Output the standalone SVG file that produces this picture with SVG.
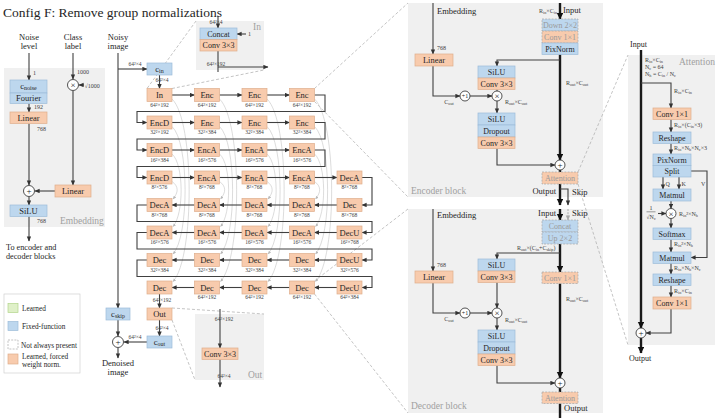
<svg xmlns="http://www.w3.org/2000/svg" width="720" height="418" viewBox="0 0 720 418">
<defs>
<marker id="a" markerUnits="userSpaceOnUse" markerWidth="6" markerHeight="6" refX="4.6" refY="2.2" orient="auto"><path d="M0,0 L5,2.2 L0,4.4 z" fill="#333"/></marker>
<marker id="ka" markerUnits="userSpaceOnUse" markerWidth="8" markerHeight="8" refX="6" refY="3.2" orient="auto"><path d="M0,0 L6.5,3.2 L0,6.4 z" fill="#111"/></marker>
<marker id="ga" markerUnits="userSpaceOnUse" markerWidth="5" markerHeight="5" refX="3" refY="1.5" orient="auto"><path d="M0,0 L3.2,1.5 L0,3 z" fill="#b8b8b8"/></marker>
<marker id="gd" markerUnits="userSpaceOnUse" markerWidth="6" markerHeight="6" refX="4.6" refY="2.2" orient="auto"><path d="M0,0 L5,2.2 L0,4.4 z" fill="#aaa"/></marker>
</defs>
<style>
text{font-family:"Liberation Serif","Times New Roman",serif;fill:#262626}
.o{fill:#f8cbad;stroke:#dfae8c;stroke-width:.7}
.b{fill:#bdd7ee;stroke:#9dbcd9;stroke-width:.7}
.od{fill:#f8cbad;stroke:#a6a6a6;stroke-width:.7;stroke-dasharray:2 1.2}
.bd{fill:#bdd7ee;stroke:#a6a6a6;stroke-width:.7;stroke-dasharray:2 1.2}
.pn{fill:#f0f0f0}
.t{font-size:8.5px;text-anchor:middle}
.tb{font-size:8px;text-anchor:middle}
.tg{font-size:8px;text-anchor:middle;fill:#9a9a9a}
.d{font-size:5.5px;text-anchor:middle;fill:#404040}
.s{font-size:6px;fill:#404040}
.sb{font-size:4.2px}
.io{font-size:8.5px}
.pl{font-size:9.5px;fill:#a0a0a0}
.l{stroke:#404040;stroke-width:1.1;fill:none}
.la{stroke:#404040;stroke-width:1.1;fill:none;marker-end:url(#a)}
.k{stroke:#1a1a1a;stroke-width:2.4;fill:none}
.ka{stroke:#1a1a1a;stroke-width:2.4;fill:none;marker-end:url(#ka)}
.dz{stroke:#aaaaaa;stroke-width:.7;fill:none;stroke-dasharray:3 2}
.sk{stroke:#c4c4c4;stroke-width:.6;fill:none;marker-end:url(#ga)}
.c{fill:#fff;stroke:#404040;stroke-width:.9}
.ct{font-size:9px;text-anchor:middle}
</style>

<text x="3" y="17" font-size="13.5">Config F: Remove group normalizations</text>

<!-- panels -->
<g id="panels">
<rect class="pn" x="4" y="68" width="101" height="159"/>
<text class="pl" x="60" y="224">Embedding</text>
<rect class="pn" x="196" y="21" width="68" height="49"/>
<text class="pl" x="253" y="30">In</text>
<rect class="pn" x="195" y="314" width="69" height="66"/>
<text class="pl" x="248" y="378">Out</text>
<rect class="pn" x="408" y="3" width="195" height="194"/>
<text class="pl" x="411" y="194">Encoder block</text>
<rect class="pn" x="408" y="209" width="195" height="204"/>
<text class="pl" x="411" y="409">Decoder block</text>
<rect class="pn" x="628" y="55" width="87" height="290"/>
<text class="pl" x="679" y="65">Attention</text>
</g>

<g id="connectors">
<!-- zoom dashed lines -->
<path class="dz" d="M196,21 L147,88.5"/>
<path class="dz" d="M172,88.5 L264,70"/>
<path class="dz" d="M314.5,88.5 L408,3"/>
<path class="dz" d="M314.5,101.5 L408,197"/>
<path class="dz" d="M314.5,281 L408,209"/>
<path class="dz" d="M314.5,294 L408,413"/>
<path class="dz" d="M578,172 L628,55"/>
<path class="dz" d="M578,184 L628,345"/>
<path class="dz" d="M172,308 L264,314"/>
<path class="dz" d="M172,320 L195,380"/>

<!-- skip curves -->
<path class="sk" d="M172,99 C194.7,120.25 194.7,258.25 173,281.5"/>
<path class="sk" d="M172,126.5 C189.3,142.25 189.3,236.25 173,254"/>
<path class="sk" d="M172,154 C184,164.25 184,214.25 173,226.5"/>
<path class="sk" d="M172,181.5 C178.7,186.25 178.7,192.25 173,199"/>
<path class="sk" d="M219.5,99 C242.2,120.25 242.2,258.25 220.5,281.5"/>
<path class="sk" d="M219.5,126.5 C236.8,142.25 236.8,236.25 220.5,254"/>
<path class="sk" d="M219.5,154 C231.5,164.25 231.5,214.25 220.5,226.5"/>
<path class="sk" d="M219.5,181.5 C226.2,186.25 226.2,192.25 220.5,199"/>
<path class="sk" d="M267,99 C289.7,120.25 289.7,258.25 268,281.5"/>
<path class="sk" d="M267,126.5 C284.3,142.25 284.3,236.25 268,254"/>
<path class="sk" d="M267,154 C279,164.25 279,214.25 268,226.5"/>
<path class="sk" d="M267,181.5 C273.7,186.25 273.7,192.25 268,199"/>
<path class="sk" d="M314.5,99 C337.2,120.25 337.2,258.25 315.5,281.5"/>
<path class="sk" d="M314.5,126.5 C331.8,142.25 331.8,236.25 315.5,254"/>
<path class="sk" d="M314.5,154 C326.5,164.25 326.5,214.25 315.5,226.5"/>
<path class="sk" d="M314.5,181.5 C321.2,186.25 321.2,192.25 315.5,199"/>

<!-- embedding -->
<path class="la" d="M29,53 V80"/>
<path class="la" d="M29,103.5 V112"/>
<path class="la" d="M29,123.5 V185"/>
<path class="la" d="M29,197 V205"/>
<path class="la" d="M29,216.5 V241"/>
<path class="la" d="M73,53 V79"/>
<path class="la" d="M84,85 H79"/>
<path class="la" d="M73,91 V185"/>
<path class="la" d="M55,191 H35"/>

<!-- network main -->
<path class="la" d="M118,53 V308"/>
<path class="la" d="M118,69 H147"/>
<path class="la" d="M159.5,75 V88.5"/>
<path class="la" d="M172,95 H194.5"/>
<path class="la" d="M219.5,95 H242"/>
<path class="la" d="M267,95 H289.5"/>
<path class="la" d="M314.5,95 H325 V111.5 H137 V122.5 H147"/>
<path class="la" d="M172,122.5 H194.5"/>
<path class="la" d="M219.5,122.5 H242"/>
<path class="la" d="M267,122.5 H289.5"/>
<path class="la" d="M314.5,122.5 H325 V139 H137 V150 H147"/>
<path class="la" d="M172,150 H194.5"/>
<path class="la" d="M219.5,150 H242"/>
<path class="la" d="M267,150 H289.5"/>
<path class="la" d="M314.5,150 H325 V166.5 H137 V177.5 H147"/>
<path class="la" d="M172,177.5 H194.5"/>
<path class="la" d="M219.5,177.5 H242"/>
<path class="la" d="M267,177.5 H289.5"/>
<path class="la" d="M314.5,177.5 H337"/>
<path class="la" d="M362,177.5 H372 V205 H362"/>
<path class="la" d="M337,205 H314.5"/>
<path class="la" d="M289.5,205 H267"/>
<path class="la" d="M242,205 H219.5"/>
<path class="la" d="M194.5,205 H172"/>
<path class="la" d="M147,205 H137 V221.5 H372 V232.5 H362"/>
<path class="la" d="M337,232.5 H314.5"/>
<path class="la" d="M289.5,232.5 H267"/>
<path class="la" d="M242,232.5 H219.5"/>
<path class="la" d="M194.5,232.5 H172"/>
<path class="la" d="M147,232.5 H137 V249 H372 V260 H362"/>
<path class="la" d="M337,260 H314.5"/>
<path class="la" d="M289.5,260 H267"/>
<path class="la" d="M242,260 H219.5"/>
<path class="la" d="M194.5,260 H172"/>
<path class="la" d="M147,260 H137 V276.5 H372 V287.5 H362"/>
<path class="la" d="M337,287.5 H314.5"/>
<path class="la" d="M289.5,287.5 H267"/>
<path class="la" d="M242,287.5 H219.5"/>
<path class="la" d="M194.5,287.5 H172"/>
<path class="la" d="M159.5,294 V308"/>
<path class="la" d="M159.5,320 V336"/>
<path class="la" d="M147,342 H124"/>
<path class="la" d="M118,320 V336"/>
<path class="la" d="M118,348 V358"/>

<!-- In / Out panels -->
<path class="la" d="M218,16 V28"/>
<path class="la" d="M246,34 H237"/>
<path class="l" d="M218,51 V72"/>
<path class="la" d="M218,67 H268"/>
<path class="la" d="M220,309 V348"/>
<path class="la" d="M220,359.5 V387"/>

<!-- encoder block -->
<path class="la" d="M433,3 V54"/>
<path class="la" d="M433,66 V96 H460"/>
<path class="la" d="M470,96 H492"/>
<path class="l" d="M497,89.5 V91"/>
<path class="la" d="M497,101 V113"/>
<path class="la" d="M497,148.5 V165 H555"/>
<path class="ka" d="M560,3 V19"/>
<path class="ka" d="M560,54.5 V160"/>
<path class="la" d="M560,60 H497 V66"/>
<path class="k" d="M560,170 V172"/>
<path class="ka" d="M560,184 V205"/>
<path class="la" d="M560,189 H568 V205"/>

<!-- decoder block -->
<path class="la" d="M433,209 V271"/>
<path class="la" d="M433,283 V313 H460"/>
<path class="la" d="M470,313 H492"/>
<path class="la" d="M497,282.5 V308"/>
<path class="la" d="M497,318 V330"/>
<path class="la" d="M497,365.5 V383 H555"/>
<path class="ka" d="M560,209 V220"/>
<path d="M568,209 V220" stroke="#aaa" stroke-width="1" stroke-dasharray="2 1.2" fill="none" marker-end="url(#gd)"/>
<path class="ka" d="M560,244 V272"/>
<path class="la" d="M560,253 H497 V259"/>
<path class="ka" d="M560,283.5 V378"/>
<path class="k" d="M560,388 V392"/>
<path class="k" d="M560,403.5 V418"/>

<!-- attention -->
<path class="ka" d="M641,50 V328"/>
<path class="la" d="M641,83 H671 V108"/>
<path class="la" d="M671,119.5 V132"/>
<path class="la" d="M671,143.5 V154"/>
<path class="la" d="M663,177 V189"/>
<path class="la" d="M679,177 V189"/>
<path class="la" d="M691,171 H707 V257.5 H691"/>
<path class="la" d="M671,201 V208.5"/>
<path class="la" d="M658,213.5 H666"/>
<path class="la" d="M671,218.5 V228"/>
<path class="la" d="M671,239.5 V252"/>
<path class="la" d="M671,263 V274"/>
<path class="la" d="M671,285.5 V297"/>
<path class="la" d="M671,309 V333 H646"/>
<path class="ka" d="M641,338 V353"/>
</g>

<!-- left side labels -->
<g id="inputs">
<text class="t" x="29" y="40">Noise</text>
<text class="t" x="29" y="49">level</text>
<text class="t" x="73" y="40">Class</text>
<text class="t" x="73" y="49">label</text>
<text class="t" x="118" y="40">Noisy</text>
<text class="t" x="118" y="49">image</text>
<text class="s" x="33" y="75">1</text>
<text class="s" x="34" y="109">192</text>
<text class="s" x="37" y="131">768</text>
<text class="s" x="37" y="223">768</text>
<text class="s" x="77" y="74">1000</text>
<text class="s" x="84.5" y="88" font-size="6.5">√1000</text>
<text x="6" y="250" font-size="8.2">To encoder and</text>
<text x="6" y="259" font-size="8.2">decoder blocks</text>
<text class="t" x="118" y="366">Denoised</text>
<text class="t" x="118" y="375">image</text>
<text class="d" x="135" y="66">64²×4</text>
<text class="d" x="135" y="339">64²×4</text>
<text class="d" x="162" y="82" text-anchor="start">64²×4</text>
<text class="d" x="162" y="302" text-anchor="start">64²×192</text>
<text class="d" x="162" y="330" text-anchor="start">64²×4</text>
<text class="d" x="216" y="24" text-anchor="end">64²×4</text>
<text class="s" x="248" y="36">1</text>
<text class="d" x="216" y="66" text-anchor="end">64²×192</text>
<text class="d" x="224" y="321" text-anchor="start">64²×192</text>
<text class="d" x="224" y="378" text-anchor="start">64²×4</text>
</g>

<g id="emb-cnoise"><rect class="b" x="10" y="80" width="37" height="13"/><text class="t" x="28.5" y="88.5">c<tspan dy="1.8" font-size="6">noise</tspan></text></g>
<g id="emb-fourier"><rect class="b" x="10" y="93" width="37" height="10.5"/><text class="t" x="28.5" y="101">Fourier</text></g>
<g id="emb-linear1"><rect class="o" x="10" y="112" width="37" height="11.5"/><text class="t" x="28.5" y="121">Linear</text></g>
<g id="emb-mul"><circle class="c" cx="73" cy="85" r="5.5"/><text class="ct" x="73" y="88.2">×</text></g>
<g id="emb-linear2"><rect class="o" x="55" y="185" width="36" height="12"/><text class="t" x="73" y="194">Linear</text></g>
<g id="emb-plus"><circle class="c" cx="29" cy="191" r="5.5"/><text class="ct" x="29" y="194.2">+</text></g>
<g id="emb-silu"><rect class="b" x="10" y="205" width="37" height="11.5"/><text class="t" x="28.5" y="214">SiLU</text></g>

<g id="legend">
<rect x="4" y="294" width="76" height="79" fill="#fff" stroke="#d0d0d0" stroke-width=".7"/>
<rect x="8" y="303.5" width="10" height="9" fill="#dff0c8" stroke="#b3d48b" stroke-width=".7"/>
<text x="22" y="311" font-size="7.3">Learned</text>
<rect class="b" x="8" y="321.5" width="10" height="9"/>
<text x="22" y="329" font-size="7.3">Fixed-function</text>
<rect x="8" y="340" width="10" height="9" fill="#fff" stroke="#aaa" stroke-width=".7" stroke-dasharray="2 1.2"/>
<text x="21" y="347.5" font-size="7.3" fill="#9a9a9a">Not always present</text>
<rect class="o" x="8" y="354" width="10" height="10"/>
<text x="22" y="358.5" font-size="7.3">Learned, forced</text>
<text x="22" y="366.5" font-size="7.3">weight norm.</text>
</g>

<g id="cin"><rect class="b" x="147" y="63" width="25" height="12"/><text class="t" x="159.5" y="71.5">c<tspan dy="1.8" font-size="6">in</tspan></text></g>
<g id="cskip"><rect class="b" x="106" y="308" width="24" height="12"/><text class="t" x="118" y="316.5">c<tspan dy="1.8" font-size="6">skip</tspan></text></g>
<g id="out"><rect class="o" x="147" y="308" width="25" height="12"/><text class="t" x="159.5" y="317">Out</text></g>
<g id="cout"><rect class="b" x="147" y="336" width="25" height="12"/><text class="t" x="159.5" y="344.5">c<tspan dy="1.8" font-size="6">out</tspan></text></g>
<g id="final-plus"><circle class="c" cx="118" cy="342" r="5.5"/><text class="ct" x="118" y="345.2">+</text></g>

<g id="in-concat"><rect class="b" x="200" y="28" width="37" height="11.5"/><text class="tb" x="218.5" y="36.8">Concat</text></g>
<g id="in-conv"><rect class="o" x="200" y="39.5" width="37" height="11.5"/><text class="tb" x="218.5" y="48.3">Conv 3×3</text></g>
<g id="out-conv"><rect class="o" x="202" y="348" width="36" height="11.5"/><text class="tb" x="220" y="356.8">Conv 3×3</text></g>

<!-- grid -->
<g id="r0c0"><rect class="o" x="147" y="88.5" width="25" height="13"/><text class="t" x="159.5" y="98">In</text><text class="d" x="159.5" y="106.5">64²×192</text></g>
<g id="r0c1"><rect class="o" x="194.5" y="88.5" width="25" height="13"/><text class="t" x="207" y="98">Enc</text><text class="d" x="207" y="106.5">64²×192</text></g>
<g id="r0c2"><rect class="o" x="242" y="88.5" width="25" height="13"/><text class="t" x="254.5" y="98">Enc</text><text class="d" x="254.5" y="106.5">64²×192</text></g>
<g id="r0c3"><rect class="o" x="289.5" y="88.5" width="25" height="13"/><text class="t" x="302" y="98">Enc</text><text class="d" x="302" y="106.5">64²×192</text></g>

<g id="r1c0"><rect class="o" x="147" y="116" width="25" height="13"/><text class="t" x="159.5" y="125.5">EncD</text><text class="d" x="159.5" y="134">32²×192</text></g>
<g id="r1c1"><rect class="o" x="194.5" y="116" width="25" height="13"/><text class="t" x="207" y="125.5">Enc</text><text class="d" x="207" y="134">32²×384</text></g>
<g id="r1c2"><rect class="o" x="242" y="116" width="25" height="13"/><text class="t" x="254.5" y="125.5">Enc</text><text class="d" x="254.5" y="134">32²×384</text></g>
<g id="r1c3"><rect class="o" x="289.5" y="116" width="25" height="13"/><text class="t" x="302" y="125.5">Enc</text><text class="d" x="302" y="134">32²×384</text></g>

<g id="r2c0"><rect class="o" x="147" y="143.5" width="25" height="13"/><text class="t" x="159.5" y="153">EncD</text><text class="d" x="159.5" y="161.5">16²×384</text></g>
<g id="r2c1"><rect class="o" x="194.5" y="143.5" width="25" height="13"/><text class="t" x="207" y="153">EncA</text><text class="d" x="207" y="161.5">16²×576</text></g>
<g id="r2c2"><rect class="o" x="242" y="143.5" width="25" height="13"/><text class="t" x="254.5" y="153">EncA</text><text class="d" x="254.5" y="161.5">16²×576</text></g>
<g id="r2c3"><rect class="o" x="289.5" y="143.5" width="25" height="13"/><text class="t" x="302" y="153">EncA</text><text class="d" x="302" y="161.5">16²×576</text></g>

<g id="r3c0"><rect class="o" x="147" y="171" width="25" height="13"/><text class="t" x="159.5" y="180.5">EncD</text><text class="d" x="159.5" y="189">8²×576</text></g>
<g id="r3c1"><rect class="o" x="194.5" y="171" width="25" height="13"/><text class="t" x="207" y="180.5">EncA</text><text class="d" x="207" y="189">8²×768</text></g>
<g id="r3c2"><rect class="o" x="242" y="171" width="25" height="13"/><text class="t" x="254.5" y="180.5">EncA</text><text class="d" x="254.5" y="189">8²×768</text></g>
<g id="r3c3"><rect class="o" x="289.5" y="171" width="25" height="13"/><text class="t" x="302" y="180.5">EncA</text><text class="d" x="302" y="189">8²×768</text></g>
<g id="r3c4"><rect class="o" x="337" y="171" width="25" height="13"/><text class="t" x="349.5" y="180.5">DecA</text><text class="d" x="349.5" y="189">8²×768</text></g>

<g id="r4c0"><rect class="o" x="147" y="198.5" width="25" height="13"/><text class="t" x="159.5" y="208">DecA</text><text class="d" x="159.5" y="216.5">8²×768</text></g>
<g id="r4c1"><rect class="o" x="194.5" y="198.5" width="25" height="13"/><text class="t" x="207" y="208">DecA</text><text class="d" x="207" y="216.5">8²×768</text></g>
<g id="r4c2"><rect class="o" x="242" y="198.5" width="25" height="13"/><text class="t" x="254.5" y="208">DecA</text><text class="d" x="254.5" y="216.5">8²×768</text></g>
<g id="r4c3"><rect class="o" x="289.5" y="198.5" width="25" height="13"/><text class="t" x="302" y="208">DecA</text><text class="d" x="302" y="216.5">8²×768</text></g>
<g id="r4c4"><rect class="o" x="337" y="198.5" width="25" height="13"/><text class="t" x="349.5" y="208">Dec</text><text class="d" x="349.5" y="216.5">8²×768</text></g>

<g id="r5c0"><rect class="o" x="147" y="226" width="25" height="13"/><text class="t" x="159.5" y="235.5">DecA</text><text class="d" x="159.5" y="244">16²×576</text></g>
<g id="r5c1"><rect class="o" x="194.5" y="226" width="25" height="13"/><text class="t" x="207" y="235.5">DecA</text><text class="d" x="207" y="244">16²×576</text></g>
<g id="r5c2"><rect class="o" x="242" y="226" width="25" height="13"/><text class="t" x="254.5" y="235.5">DecA</text><text class="d" x="254.5" y="244">16²×576</text></g>
<g id="r5c3"><rect class="o" x="289.5" y="226" width="25" height="13"/><text class="t" x="302" y="235.5">DecA</text><text class="d" x="302" y="244">16²×576</text></g>
<g id="r5c4"><rect class="o" x="337" y="226" width="25" height="13"/><text class="t" x="349.5" y="235.5">DecU</text><text class="d" x="349.5" y="244">16²×768</text></g>

<g id="r6c0"><rect class="o" x="147" y="253.5" width="25" height="13"/><text class="t" x="159.5" y="263">Dec</text><text class="d" x="159.5" y="271.5">32²×384</text></g>
<g id="r6c1"><rect class="o" x="194.5" y="253.5" width="25" height="13"/><text class="t" x="207" y="263">Dec</text><text class="d" x="207" y="271.5">32²×384</text></g>
<g id="r6c2"><rect class="o" x="242" y="253.5" width="25" height="13"/><text class="t" x="254.5" y="263">Dec</text><text class="d" x="254.5" y="271.5">32²×384</text></g>
<g id="r6c3"><rect class="o" x="289.5" y="253.5" width="25" height="13"/><text class="t" x="302" y="263">Dec</text><text class="d" x="302" y="271.5">32²×384</text></g>
<g id="r6c4"><rect class="o" x="337" y="253.5" width="25" height="13"/><text class="t" x="349.5" y="263">DecU</text><text class="d" x="349.5" y="271.5">32²×576</text></g>

<g id="r7c0"><rect class="o" x="147" y="281" width="25" height="13"/><text class="t" x="159.5" y="290.5">Dec</text></g>
<g id="r7c1"><rect class="o" x="194.5" y="281" width="25" height="13"/><text class="t" x="207" y="290.5">Dec</text><text class="d" x="207" y="299">64²×192</text></g>
<g id="r7c2"><rect class="o" x="242" y="281" width="25" height="13"/><text class="t" x="254.5" y="290.5">Dec</text><text class="d" x="254.5" y="299">64²×192</text></g>
<g id="r7c3"><rect class="o" x="289.5" y="281" width="25" height="13"/><text class="t" x="302" y="290.5">Dec</text><text class="d" x="302" y="299">64²×192</text></g>
<g id="r7c4"><rect class="o" x="337" y="281" width="25" height="13"/><text class="t" x="349.5" y="290.5">DecU</text><text class="d" x="349.5" y="299">64²×384</text></g>

<!-- encoder block nodes -->
<g id="enc-labels">
<text class="io" x="437" y="14">Embedding</text>
<text class="s" x="437" y="50">768</text>
<text class="s" x="557" y="13" text-anchor="end">R<tspan class="sb" dy="1.2">in</tspan><tspan dy="-1.2">×C</tspan><tspan class="sb" dy="1.2">in</tspan></text>
<text class="io" x="563" y="13">Input</text>
<text class="s" x="566" y="85">R<tspan class="sb" dy="1.2">out</tspan><tspan dy="-1.2">×C</tspan><tspan class="sb" dy="1.2">out</tspan></text>
<text class="s" x="449" y="104" text-anchor="middle">C<tspan class="sb" dy="1.2">out</tspan></text>
<text class="s" x="505" y="104">R<tspan class="sb" dy="1.2">out</tspan><tspan dy="-1.2">×C</tspan><tspan class="sb" dy="1.2">out</tspan></text>
<text class="io" x="556" y="194" text-anchor="end">Output</text>
<text class="io" x="572" y="195">Skip</text>
</g>
<g id="enc-linear"><rect class="o" x="415" y="54" width="38" height="12"/><text class="t" x="434" y="63">Linear</text></g>
<g id="enc-plus1"><circle class="c" cx="465" cy="96" r="5"/><text x="465" y="98.2" font-size="6" text-anchor="middle">+1</text></g>
<g id="enc-mul"><circle class="c" cx="497" cy="96" r="5"/><text class="ct" x="497" y="99">×</text></g>
<g id="enc-down"><rect class="bd" x="542" y="19" width="36" height="12"/><text class="tg" x="560" y="28">Down 2×2</text></g>
<g id="enc-conv11"><rect class="od" x="542" y="31" width="36" height="12"/><text class="tg" x="560" y="40">Conv 1×1</text></g>
<g id="enc-pixnorm"><rect class="b" x="542" y="43" width="36" height="11.5"/><text class="tb" x="560" y="51.8">PixNorm</text></g>
<g id="enc-silu1"><rect class="b" x="478" y="66" width="37" height="12"/><text class="tb" x="496.5" y="75">SiLU</text></g>
<g id="enc-conv1"><rect class="o" x="478" y="78" width="37" height="11.5"/><text class="tb" x="496.5" y="86.8">Conv 3×3</text></g>
<g id="enc-silu2"><rect class="b" x="478" y="113" width="37" height="12"/><text class="tb" x="496.5" y="122">SiLU</text></g>
<g id="enc-dropout"><rect class="b" x="478" y="125" width="37" height="12"/><text class="tb" x="496.5" y="134">Dropout</text></g>
<g id="enc-conv2"><rect class="o" x="478" y="137" width="37" height="11.5"/><text class="tb" x="496.5" y="145.8">Conv 3×3</text></g>
<g id="enc-plus"><circle class="c" cx="560" cy="165" r="5"/><text class="ct" x="560" y="168">+</text></g>
<g id="enc-attn"><rect class="od" x="542" y="172" width="36" height="12"/><text class="tg" x="560" y="181">Attention</text></g>

<!-- decoder block nodes -->
<g id="dec-labels">
<text class="io" x="437" y="218">Embedding</text>
<text class="s" x="437" y="267">768</text>
<text class="io" x="556" y="216" text-anchor="end">Input</text>
<text class="io" x="572" y="216" fill="#a0a0a0">Skip</text>
<text class="s" x="517" y="250">R<tspan class="sb" dy="1.2">out</tspan><tspan dy="-1.2">×(C</tspan><tspan class="sb" dy="1.2">in</tspan><tspan dy="-1.2">+C</tspan><tspan class="sb" dy="1.2">skip</tspan><tspan dy="-1.2">)</tspan></text>
<text class="s" x="566" y="301">R<tspan class="sb" dy="1.2">out</tspan><tspan dy="-1.2">×C</tspan><tspan class="sb" dy="1.2">out</tspan></text>
<text class="s" x="449" y="321" text-anchor="middle">C<tspan class="sb" dy="1.2">out</tspan></text>
<text class="s" x="505" y="322">R<tspan class="sb" dy="1.2">out</tspan><tspan dy="-1.2">×C</tspan><tspan class="sb" dy="1.2">out</tspan></text>
<text class="io" x="564" y="411">Output</text>
</g>
<g id="dec-linear"><rect class="o" x="415" y="271" width="38" height="12"/><text class="t" x="434" y="280">Linear</text></g>
<g id="dec-plus1"><circle class="c" cx="465" cy="313" r="5"/><text x="465" y="315.2" font-size="6" text-anchor="middle">+1</text></g>
<g id="dec-mul"><circle class="c" cx="497" cy="313" r="5"/><text class="ct" x="497" y="316">×</text></g>
<g id="dec-concat"><rect class="bd" x="542" y="220" width="36" height="12"/><text class="tg" x="560" y="229">Concat</text></g>
<g id="dec-up"><rect class="bd" x="542" y="232" width="36" height="12"/><text class="tg" x="560" y="241">Up 2×2</text></g>
<g id="dec-conv11"><rect class="od" x="542" y="272" width="36" height="11.5"/><text class="tg" x="560" y="280.8">Conv 1×1</text></g>
<g id="dec-silu1"><rect class="b" x="478" y="259" width="37" height="12"/><text class="tb" x="496.5" y="268">SiLU</text></g>
<g id="dec-conv1"><rect class="o" x="478" y="271" width="37" height="11.5"/><text class="tb" x="496.5" y="279.8">Conv 3×3</text></g>
<g id="dec-silu2"><rect class="b" x="478" y="330" width="37" height="12"/><text class="tb" x="496.5" y="339">SiLU</text></g>
<g id="dec-dropout"><rect class="b" x="478" y="342" width="37" height="12"/><text class="tb" x="496.5" y="351">Dropout</text></g>
<g id="dec-conv2"><rect class="o" x="478" y="354" width="37" height="11.5"/><text class="tb" x="496.5" y="362.8">Conv 3×3</text></g>
<g id="dec-plus"><circle class="c" cx="560" cy="383" r="5"/><text class="ct" x="560" y="386">+</text></g>
<g id="dec-attn"><rect class="od" x="542" y="392" width="36" height="11.5"/><text class="tg" x="560" y="400.8">Attention</text></g>

<!-- attention nodes -->
<g id="att-labels">
<text x="630" y="47" font-size="8">Input</text>
<text class="s" x="645" y="62">R<tspan class="sb" dy="1.2">in</tspan><tspan dy="-1.2">×C</tspan><tspan class="sb" dy="1.2">in</tspan></text>
<text class="s" x="645" y="69">N<tspan class="sb" dy="1.2">c</tspan><tspan dy="-1.2"> = 64</tspan></text>
<text class="s" x="645" y="76">N<tspan class="sb" dy="1.2">h</tspan><tspan dy="-1.2"> = C</tspan><tspan class="sb" dy="1.2">in</tspan><tspan dy="-1.2"> / N</tspan><tspan class="sb" dy="1.2">c</tspan></text>
<text class="s" x="674" y="93">R<tspan class="sb" dy="1.2">in</tspan><tspan dy="-1.2">×C</tspan><tspan class="sb" dy="1.2">in</tspan></text>
<text class="s" x="674" y="127">R<tspan class="sb" dy="1.2">in</tspan><tspan dy="-1.2">×(C</tspan><tspan class="sb" dy="1.2">in</tspan><tspan dy="-1.2">×3)</tspan></text>
<text class="s" x="674" y="150">R<tspan class="sb" dy="1.2">in</tspan><tspan dy="-1.2">×N</tspan><tspan class="sb" dy="1.2">h</tspan><tspan dy="-1.2">×N</tspan><tspan class="sb" dy="1.2">c</tspan><tspan dy="-1.2">×3</tspan></text>
<text class="s" x="665.5" y="186">Q</text>
<text class="s" x="681.5" y="186">K</text>
<text class="s" x="701" y="186">V</text>
<text class="s" x="651" y="210" text-anchor="middle">1</text>
<path d="M646.5,211.8 H655.5" stroke="#404040" stroke-width=".5"/>
<text class="s" x="651" y="218.5" text-anchor="middle">√N<tspan class="sb" dy="1.2">c</tspan></text>
<text class="s" x="679" y="216">R<tspan class="sb" dy="1.2">in</tspan><tspan dy="-1.2">²×N</tspan><tspan class="sb" dy="1.2">h</tspan></text>
<text class="s" x="674" y="246">R<tspan class="sb" dy="1.2">in</tspan><tspan dy="-1.2">²×N</tspan><tspan class="sb" dy="1.2">h</tspan></text>
<text class="s" x="674" y="270">R<tspan class="sb" dy="1.2">in</tspan><tspan dy="-1.2">×N</tspan><tspan class="sb" dy="1.2">h</tspan><tspan dy="-1.2">×N</tspan><tspan class="sb" dy="1.2">c</tspan></text>
<text class="s" x="674" y="293">R<tspan class="sb" dy="1.2">in</tspan><tspan dy="-1.2">×C</tspan><tspan class="sb" dy="1.2">in</tspan></text>
<text x="629" y="361" font-size="8">Output</text>
</g>
<g id="att-conv1"><rect class="o" x="653" y="108" width="38" height="11.5"/><text class="tb" x="672" y="116.8">Conv 1×1</text></g>
<g id="att-reshape1"><rect class="b" x="653" y="132" width="38" height="11.5"/><text class="tb" x="672" y="140.8">Reshape</text></g>
<g id="att-pixnorm"><rect class="b" x="653" y="154" width="38" height="11.5"/><text class="tb" x="672" y="162.8">PixNorm</text></g>
<g id="att-split"><rect class="b" x="653" y="165.5" width="38" height="11.5"/><text class="tb" x="672" y="174.3">Split</text></g>
<g id="att-matmul1"><rect class="b" x="653" y="189" width="38" height="12"/><text class="tb" x="672" y="198">Matmul</text></g>
<g id="att-mul"><circle class="c" cx="671" cy="213.5" r="5"/><text class="ct" x="671" y="216.5">×</text></g>
<g id="att-softmax"><rect class="b" x="653" y="228" width="38" height="11.5"/><text class="tb" x="672" y="236.8">Softmax</text></g>
<g id="att-matmul2"><rect class="b" x="653" y="252" width="38" height="11.5"/><text class="tb" x="672" y="260.8">Matmul</text></g>
<g id="att-reshape2"><rect class="b" x="653" y="274" width="38" height="11.5"/><text class="tb" x="672" y="282.8">Reshape</text></g>
<g id="att-conv2"><rect class="o" x="653" y="297" width="38" height="12"/><text class="tb" x="672" y="306">Conv 1×1</text></g>
<g id="att-plus"><circle class="c" cx="641" cy="333" r="5"/><text class="ct" x="641" y="336">+</text></g>
</svg>
